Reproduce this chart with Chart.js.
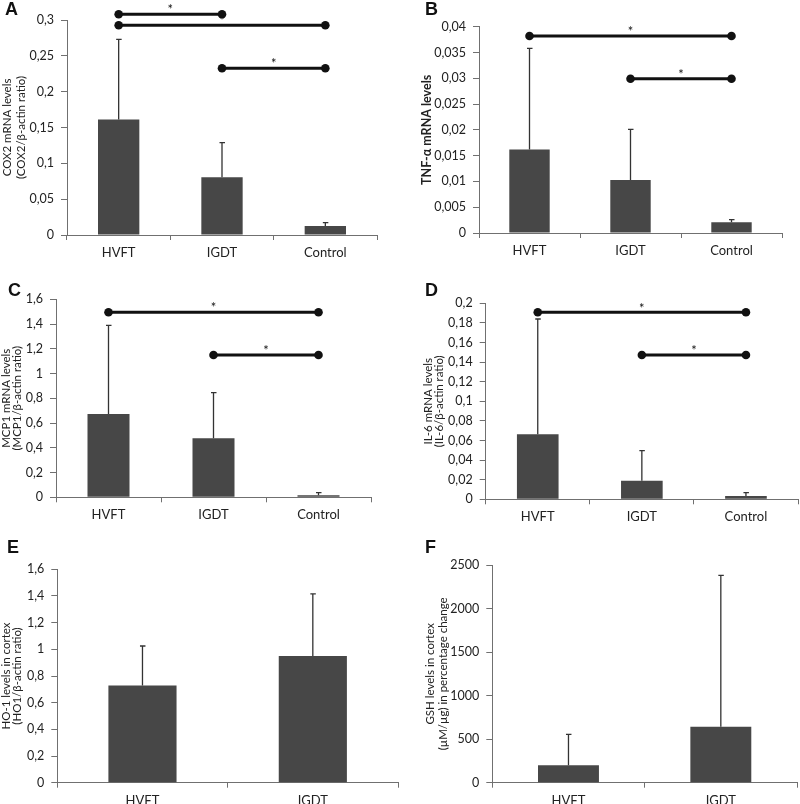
<!DOCTYPE html>
<html lang="en">
<head>
<meta charset="UTF-8">
<title>mRNA levels per group</title>
<script src="https://cdn.jsdelivr.net/npm/chart.js@4.4.0/dist/chart.umd.min.js"></script>
<style>
  body { margin: 0; background: #fff; }
  #wrap { position: relative; width: 800px; height: 804px; overflow: hidden; }
  #wrap canvas { position: absolute; }
  .lbl { position: absolute; font: bold 18px "Liberation Sans", Arial, sans-serif; line-height: 18px; color: #111; }
</style>
</head>
<body>
<div id="wrap">
  <canvas id="cA" width="400" height="270" style="left:0;top:0"></canvas>
  <canvas id="cB" width="400" height="270" style="left:400px;top:0"></canvas>
  <canvas id="cC" width="400" height="270" style="left:0;top:270px"></canvas>
  <canvas id="cD" width="400" height="270" style="left:400px;top:270px"></canvas>
  <canvas id="cE" width="400" height="264" style="left:0;top:540px"></canvas>
  <canvas id="cF" width="400" height="264" style="left:400px;top:540px"></canvas>
  <div class="lbl" style="left:5px;top:0">A</div>
  <div class="lbl" style="left:425px;top:0">B</div>
  <div class="lbl" style="left:8px;top:281px">C</div>
  <div class="lbl" style="left:425px;top:281px">D</div>
  <div class="lbl" style="left:7px;top:538px">E</div>
  <div class="lbl" style="left:425px;top:538px">F</div>
</div>
<script>
const groups3 = ['HVFT', 'IGDT', 'Control'];
const groups2 = ['HVFT', 'IGDT'];

// A - COX2
const cox2Mean = [0.161, 0.0805, 0.0126];
const cox2Sd = [0.112, 0.0483, 0.0046];
const cox2Ticks = [0, 0.05, 0.1, 0.15, 0.2, 0.25, 0.3];
const cox2Sig = [[0, 1, 0.308], [0, 2, 0.2926], [1, 2, 0.2326]];

// B - TNF-a
const tnfMean = [0.0162, 0.0103, 0.0021];
const tnfSd = [0.0196, 0.0098, 0.0005];
const tnfTicks = [0, 0.005, 0.01, 0.015, 0.02, 0.025, 0.03, 0.035, 0.04];
const tnfSig = [[0, 2, 0.0382], [1, 2, 0.0299]];

// C - MCP1
const mcp1Mean = [0.673, 0.477, 0.016];
const mcp1Sd = [0.717, 0.369, 0.021];
const mcp1Ticks = [0, 0.2, 0.4, 0.6, 0.8, 1, 1.2, 1.4, 1.6];
const mcp1Sig = [[0, 2, 1.495], [1, 2, 1.15]];

// D - IL-6
const il6Mean = [0.0663, 0.019, 0.0034];
const il6Sd = [0.1177, 0.0307, 0.0034];
const il6Ticks = [0, 0.02, 0.04, 0.06, 0.08, 0.1, 0.12, 0.14, 0.16, 0.18, 0.2];
const il6Sig = [[0, 2, 0.1908], [1, 2, 0.1473]];

// E - HO-1
const ho1Mean = [0.728, 0.95];
const ho1Sd = [0.297, 0.465];
const ho1Ticks = [0, 0.2, 0.4, 0.6, 0.8, 1, 1.2, 1.4, 1.6];

// F - GSH
const gshMean = [200, 643];
const gshSd = [356, 1739];
const gshTicks = [0, 500, 1000, 1500, 2000, 2500];

Chart.defaults.font.family = 'Lato, "Open Sans", sans-serif';
Chart.defaults.color = '#222';

const axisColor = '#707070';
const barColor = '#474747';

// error bars (upper only) and significance brackets
const extras = {
  id: 'extras',
  afterDatasetsDraw(chart, args, opts) {
    const { ctx, scales: { x, y } } = chart;
    const data = chart.data.datasets[0].data;
    ctx.save();
    ctx.strokeStyle = '#333';
    ctx.lineWidth = 1.3;
    opts.sd.forEach((s, i) => {
      const cx = x.getPixelForValue(i);
      const y0 = y.getPixelForValue(data[i]);
      const y1 = y.getPixelForValue(data[i] + s);
      ctx.beginPath();
      ctx.moveTo(cx, y0);
      ctx.lineTo(cx, y1);
      ctx.moveTo(cx - 2.5, y1);
      ctx.lineTo(cx + 3, y1);
      ctx.stroke();
    });
    ctx.strokeStyle = '#111';
    ctx.fillStyle = '#111';
    ctx.lineWidth = 3;
    ctx.font = '13px Lato, sans-serif';
    ctx.textAlign = 'center';
    ctx.textBaseline = 'middle';
    (opts.sig || []).forEach(([a, b, v]) => {
      const xa = x.getPixelForValue(a), xb = x.getPixelForValue(b);
      const yy = y.getPixelForValue(v);
      ctx.beginPath();
      ctx.moveTo(xa, yy);
      ctx.lineTo(xb, yy);
      ctx.stroke();
      [xa, xb].forEach(px => {
        ctx.beginPath();
        ctx.arc(px, yy, 4.3, 0, Math.PI * 2);
        ctx.fill();
      });
      ctx.fillText('*', (xa + xb) / 2, yy - 4);
    });
    ctx.restore();
  }
};

function fmt(v) {
  return String(Number(v.toFixed(4))).replace('.', ',');
}

function panel(id, cats, mean, sd, ticks, sig, g) {
  const cv = document.getElementById(id);
  new Chart(cv, {
    type: 'bar',
    data: {
      labels: cats,
      datasets: [{ data: mean, backgroundColor: barColor, borderWidth: 0,
                   barPercentage: 0.4, categoryPercentage: 1 }]
    },
    plugins: [extras],
    options: {
      responsive: false,
      animation: false,
      events: [],
      layout: { padding: { left: 0, top: g.top, right: cv.width - g.right, bottom: 0 } },
      plugins: { legend: { display: false }, tooltip: { enabled: false },
                 extras: { sd: sd, sig: sig } },
      scales: {
        x: {
          offset: true,
          grid: { offset: true, drawOnChartArea: false, tickLength: 5, color: axisColor },
          border: { color: axisColor },
          ticks: { padding: 5, font: { size: 13 }, maxRotation: 0 },
          afterFit(s) { s.height = cv.height - g.bottom; }
        },
        y: {
          min: 0,
          max: ticks[ticks.length - 1],
          afterBuildTicks(s) { s.ticks = ticks.map(v => ({ value: v })); },
          grid: { drawOnChartArea: false, tickLength: 6, color: axisColor },
          border: { color: axisColor },
          ticks: { padding: 7, font: { size: 12.5 }, callback: v => fmt(v) },
          title: {
            display: true,
            text: g.title,
            font: { size: g.fs || 11.5, weight: g.bold ? 'bold' : 'normal', lineHeight: g.lh + 'px' },
            padding: { top: g.tx - g.lh / 2, bottom: 0 }
          },
          afterFit(s) { s.width = g.left; }
        }
      }
    }
  });
}

panel('cA', groups3, cox2Mean, cox2Sd, cox2Ticks, cox2Sig,
  { left: 67, right: 377, top: 20, bottom: 235, tx: 7, lh: 14,
    title: ['COX2 mRNA levels', '(COX2/\u03b2-actin ratio)'] });
panel('cB', groups3, tnfMean, tnfSd, tnfTicks, tnfSig,
  { left: 79, right: 382, top: 26.7, bottom: 233, tx: 26.5, lh: 14, bold: true, fs: 12.5,
    title: 'TNF-\u03b1 mRNA levels' });
panel('cC', groups3, mcp1Mean, mcp1Sd, mcp1Ticks, mcp1Sig,
  { left: 56, right: 371, top: 29.3, bottom: 227.3, tx: 6, lh: 11.5,
    title: ['MCP1 mRNA levels', '(MCP1/\u03b2-actin ratio)'] });
panel('cD', groups3, il6Mean, il6Sd, il6Ticks, il6Sig,
  { left: 85.7, right: 398, top: 33.3, bottom: 229.3, tx: 28, lh: 11.5,
    title: ['IL-6 mRNA levels', '(IL-6/\u03b2-actin ratio)'] });
panel('cE', groups2, ho1Mean, ho1Sd, ho1Ticks, [],
  { left: 57.3, right: 398, top: 29.3, bottom: 242.7, tx: 6, lh: 11,
    title: ['HO-1 levels in cortex', '(HO1/\u03b2-actin ratio)'] });
panel('cF', groups2, gshMean, gshSd, gshTicks, [],
  { left: 92.3, right: 397, top: 25, bottom: 242.7, tx: 30, lh: 13,
    title: ['GSH levels in cortex', '(\u00b5M/\u00b5g) in percentage change'] });
</script>
</body>
</html>
